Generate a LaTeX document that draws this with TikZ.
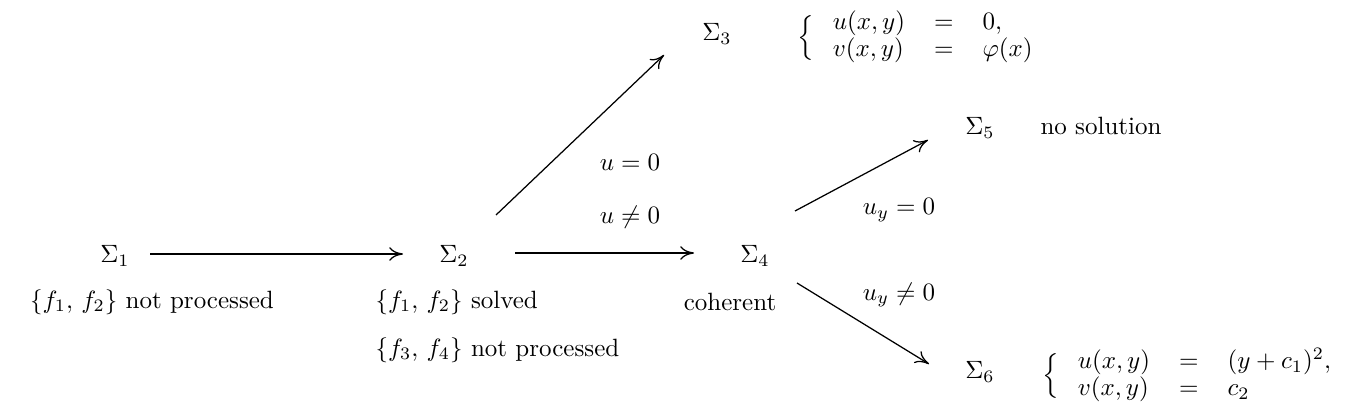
\documentclass[tikz,border=0pt]{standalone}
\usetikzlibrary{arrows.meta}
\begin{document}
\begin{tikzpicture}[x=0.40pt,y=-0.40pt,
  lbl/.style={inner sep=0pt},
  sys/.style={inner sep=0pt, anchor=west, execute at begin node={\arraycolsep=5.8pt\def\arraystretch{0.9}}},
  arr/.style={-{To[length=5.5pt,width=5.5pt]}, line width=0.5pt}]
\useasboundingbox (0,0) rectangle (1354,406);
% states
\node[lbl] (s1) at (115,256) {$\Sigma_1$};
\node[lbl] (s2) at (454,256) {$\Sigma_2$};
\node[lbl] (s3) at (717,34) {$\Sigma_3$};
\node[lbl] (s4) at (755,256) {$\Sigma_4$};
\node[lbl] (s5) at (980,128) {$\Sigma_5$};
\node[lbl] (s6) at (980,372) {$\Sigma_6$};
% descriptions
\node[lbl] (d1) at (152,302) {$\{f_1,\,f_2\}$ not processed};
\node[lbl,anchor=west] (d2) at (375,302) {$\{f_1,\,f_2\}$ solved};
\node[lbl,anchor=west] (d3) at (375,350) {$\{f_3,\,f_4\}$ not processed};
\node[lbl] (d4) at (730,302) {coherent};
\node[lbl,anchor=west] (d5) at (1040,126) {no solution};
% systems
\node[sys] (e3) at (797,38) {$\Big\{\mkern3mu\begin{array}{lcl} u(x,y) & = & 0,\\ v(x,y) & = & \varphi(x)\end{array}$};
\node[sys] (e6) at (1042,376) {$\Big\{\mkern3mu\begin{array}{lcl} u(x,y) & = & (y+c_1)^2,\\ v(x,y) & = & c_2\end{array}$};
% condition labels
\node[lbl] (c1) at (630,162) {$u=0$};
\node[lbl] (c2) at (630,217) {$u\neq0$};
\node[lbl] (c3) at (899,210) {$u_y=0$};
\node[lbl] (c4) at (899,295) {$u_y\neq0$};
% arrows
\draw[arr] ([shift={(35,-2)}]s1.center) -- ([shift={(-51,-2)}]s2.center);
\draw[arr] ([shift={(61,-3)}]s2.center) -- ([shift={(-61,-3)}]s4.center);
\draw[arr] ([shift={(42,-41)}]s2.center) -- ([shift={(-53,21)}]s3.center);
\draw[arr] ([shift={(40,-45)}]s4.center) -- ([shift={(-52,12)}]s5.center);
\draw[arr] ([shift={(42,27)}]s4.center) -- ([shift={(-51,-8)}]s6.center);
\end{tikzpicture}
\end{document}
